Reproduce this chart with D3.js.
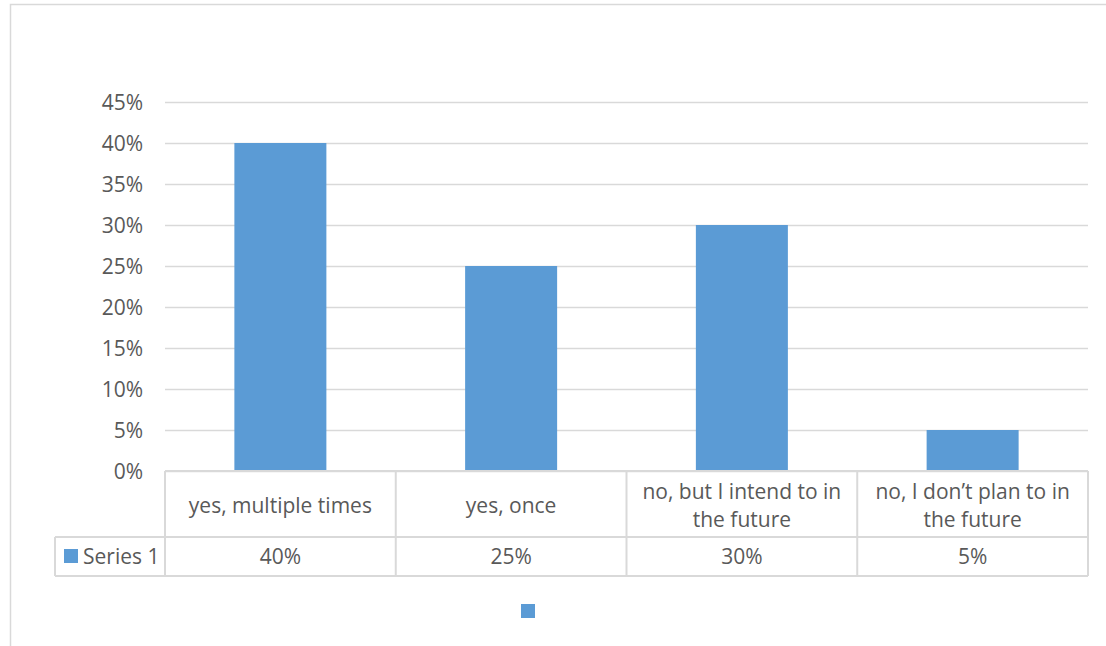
<!DOCTYPE html>
<html>
<head>
<meta charset="utf-8">
<script src="https://cdn.jsdelivr.net/npm/d3@7"></script>
<style>
  body { margin: 0; background: #fff; }
  svg { display: block; }
  text { font-family: "Open Sans", "Noto Sans", sans-serif; fill: #595959; }
</style>
</head>
<body>
<svg id="chart" width="1106" height="646"></svg>
<script>
// Survey answers and their shares
const categories = [
  ["yes, multiple times"],
  ["yes, once"],
  ["no, but I intend to in", "the future"],
  ["no, I don\u2019t plan to in", "the future"]
];
const values = [0.40, 0.25, 0.30, 0.05];
const yTicks = [0, 0.05, 0.10, 0.15, 0.20, 0.25, 0.30, 0.35, 0.40, 0.45];
const seriesName = "Series 1";

(function () {
const svg = d3.select("#chart");
const W = 1106, H = 646;
const blue = "#5b9bd5", grid = "#d9d9d9";
const fontSize = 21;
const family = "'Open Sans', 'Noto Sans', sans-serif";

// outer chart frame
svg.append("rect").attr("x", 10.5).attr("y", 4.5)
  .attr("width", W + 20).attr("height", H + 20)
  .attr("fill", "#fff").attr("stroke", grid).attr("stroke-width", 1.5);

const plotL = 165, plotR = 1088, plotT = 102, base = 471;
const x = d3.scaleBand().domain(d3.range(values.length)).range([plotL, plotR]).paddingInner(0).paddingOuter(0);
const y = d3.scaleLinear().domain([0, 0.45]).range([base, plotT]);

// gridlines
svg.append("g").selectAll("line").data(yTicks).join("line")
  .attr("x1", plotL).attr("x2", plotR)
  .attr("y1", d => Math.round(y(d)) + 0.5).attr("y2", d => Math.round(y(d)) + 0.5)
  .attr("stroke", grid).attr("stroke-width", 1.3);

// y axis labels
const yAxis = d3.axisLeft(y).tickValues(yTicks).tickFormat(d3.format(".0%")).tickSize(0).tickPadding(0);
const ya = svg.append("g").attr("transform", `translate(143,0)`).call(yAxis);
ya.select(".domain").remove();
ya.selectAll("text").style("font-family", family)
  .attr("font-size", fontSize).attr("fill", "#595959").attr("dy", "0.35em");

// bars
const barW = 92;
svg.append("g").selectAll("rect").data(values).join("rect")
  .attr("x", (d, i) => x(i) + (x.bandwidth() - barW) / 2)
  .attr("width", barW)
  .attr("y", d => y(d))
  .attr("height", d => base - y(d))
  .attr("fill", blue);

// data table below the plot
const rowTop = base, rowMid = 537, rowBot = 576, legLeft = 55;
const t = svg.append("g").attr("stroke", grid).attr("stroke-width", 2).attr("fill", "none");
t.append("line").attr("x1", plotL).attr("x2", plotR).attr("y1", rowTop).attr("y2", rowTop);
t.append("line").attr("x1", legLeft).attr("x2", plotR).attr("y1", rowMid).attr("y2", rowMid);
t.append("line").attr("x1", legLeft).attr("x2", plotR).attr("y1", rowBot).attr("y2", rowBot);
t.append("line").attr("x1", legLeft).attr("x2", legLeft).attr("y1", rowMid).attr("y2", rowBot);
d3.range(values.length + 1).forEach(i => {
  const xx = i < values.length ? x(i) : plotR;
  t.append("line").attr("x1", xx).attr("x2", xx).attr("y1", rowTop).attr("y2", rowBot);
});

// category labels
const cat = svg.append("g");
categories.forEach((lines, i) => {
  const cx = x(i) + x.bandwidth() / 2;
  const cy = (rowTop + rowMid) / 2 + 2;
  const lh = 28;
  lines.forEach((ln, j) => {
    cat.append("text").attr("x", cx)
      .attr("y", cy + (j - (lines.length - 1) / 2) * lh)
      .attr("dy", "0.35em").attr("text-anchor", "middle")
      .attr("font-size", fontSize).text(ln);
  });
});

// value row
svg.append("g").selectAll("text").data(values).join("text")
  .attr("x", (d, i) => x(i) + x.bandwidth() / 2)
  .attr("y", (rowMid + rowBot) / 2).attr("dy", "0.35em")
  .attr("text-anchor", "middle").attr("font-size", fontSize)
  .text(d => d3.format(".0%")(d));

// legend key inside the table
svg.append("rect").attr("x", 64).attr("y", 549).attr("width", 14).attr("height", 14).attr("fill", blue);
svg.append("text").attr("x", 83).attr("y", (rowMid + rowBot) / 2).attr("dy", "0.35em")
  .attr("font-size", fontSize).text(seriesName);

// chart legend
svg.append("rect").attr("x", 521).attr("y", 604).attr("width", 14).attr("height", 14).attr("fill", blue);
})();
</script>
</body>
</html>
